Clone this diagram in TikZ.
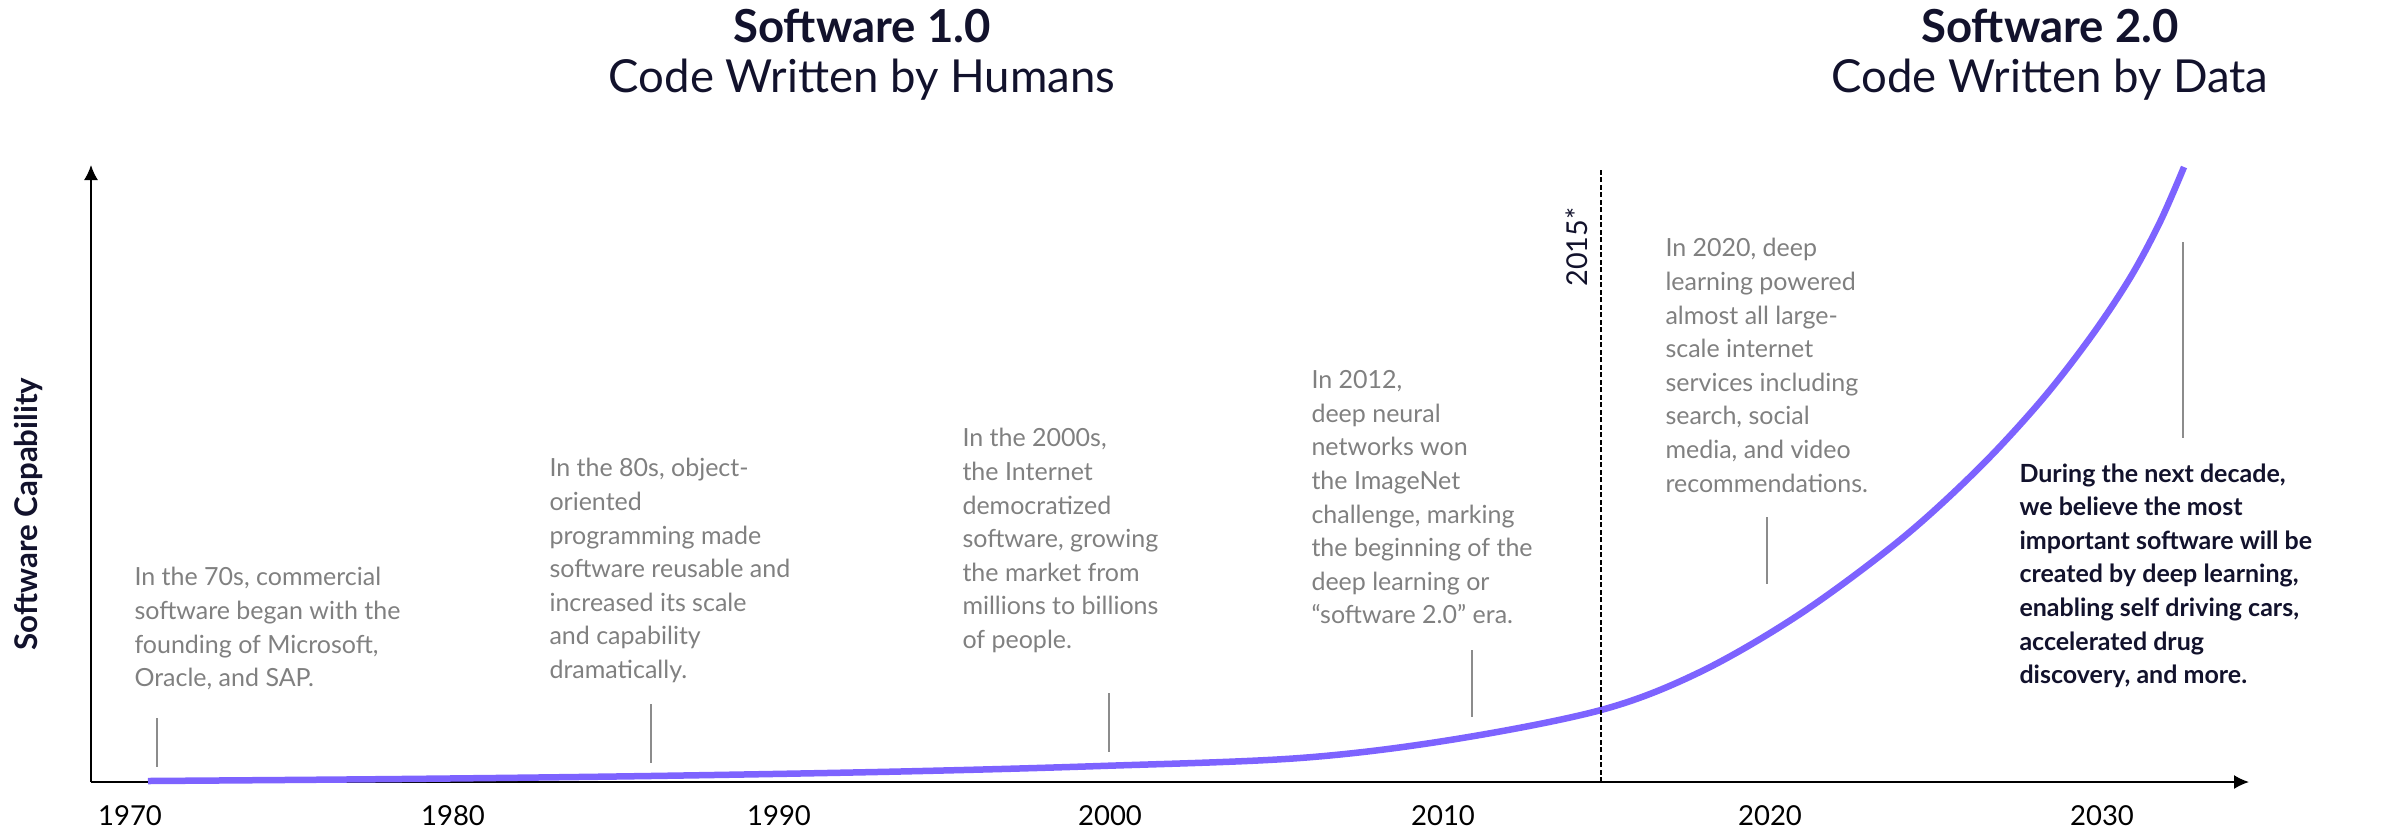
\documentclass[tikz,border=0pt]{standalone}
\usepackage{fontspec}
\setmainfont{Lato}
\usetikzlibrary{arrows.meta,positioning,calc}
\definecolor{navy}{RGB}{18,18,44}
\definecolor{textgray}{RGB}{128,128,128}
\definecolor{tickgray}{RGB}{140,140,140}
\definecolor{growthpurple}{RGB}{125,99,255}

\begin{document}
\begin{tikzpicture}
[x=0.4pt,y=-0.4pt,
%
title/.style={align=center,inner sep=0pt,anchor=north,text=navy,
  font=\fontsize{18.2}{20}\selectfont,execute at begin node={\rule{0pt}{14pt}}},
note/.style={align=left,inner sep=0pt,anchor=north west,text=textgray,
  font=\fontsize{10}{13.44}\selectfont,execute at begin node={\rule{0pt}{8pt}}},
bnote/.style={note,text=navy,font=\bfseries\fontsize{10}{13.44}\selectfont},
year/.style={inner sep=0pt,anchor=base,font=\fontsize{11}{13}\selectfont},
%
axis/.style={draw=black,line width=0.68pt,-{Latex[length=6pt,width=5.6pt]}},
tick/.style={draw=tickgray,line width=0.6pt},
era/.style={draw=black,line width=0.5pt,dash pattern=on 2pt off 1pt},
growth/.style={draw=growthpurple,line width=2.6pt}]
%
\useasboundingbox (0,0) rectangle (2394,829);
%
%% titles
\node (sw1) [title] at (862,9) {\textbf{Software 1.0}\\Code Written by Humans};
\node (sw2) [title] at (2050,9) {\textbf{Software 2.0}\\Code Written by Data};
%
%% axes
\coordinate (o) at (91,782);
\coordinate (ytop) at (91,165);
\coordinate (xend) at (2249,782);
\draw[axis] (o) -- (ytop);
\draw[axis] (o) -- (xend);
\node (ylab) [rotate=90,inner sep=0pt,text=navy,
  font=\bfseries\fontsize{12.5}{14}\selectfont] at (29,514) {Software Capability};
%
%% years
\foreach \x/\y in {130/1970,453/1980,779/1990,1110/2000,1443/2010,1770/2020,2102/2030}
\node (y\y) [year] at (\x,825) {\y};
%
%% growth curve
\draw[growth] plot[smooth,tension=0.55] coordinates {(148,781) (400,779) (650,776)
  (900,771.5) (1100,766) (1300,758) (1450,740) (1601,710) (1700,672) (1800,614)
  (1900,540) (1977,470) (2040,402) (2090,338) (2130,278) (2160,222) (2184,167)};
%
%% 2015 marker
\coordinate (e0) at (1601,782);
\coordinate (e1) at (1601,167);
\draw[era] (e0) -- (e1);
\node (y2015) [rotate=90,inner sep=0pt,text=navy,
  font=\fontsize{11.5}{13}\selectfont] at (1577,247) {2015*};
%
%% notes
\node (n70) [note] at (134,567) {In the 70s, commercial\\software began with the\\founding of Microsoft,\\Oracle, and SAP.};
\node (n80) [note] at (549,458) {In the 80s, object-\\oriented\\programming made\\software reusable and\\increased its scale\\and capability\\dramatically.};
\node (n2000) [note] at (962,428) {In the 2000s,\\the Internet\\democratized\\software, growing\\the market from\\millions to billions\\of people.};
\node (n2012) [note] at (1311,370) {In 2012,\\deep neural\\networks won\\the ImageNet\\challenge, marking\\the beginning of the\\deep learning or\\“software 2.0” era.};
\node (n2020) [note] at (1665,238) {In 2020, deep\\learning powered\\almost all large-\\scale internet\\services including\\search, social\\media, and video\\recommendations.};
\node (nnext) [bnote] at (2019,463) {During the next decade,\\we believe the most\\important software will be\\created by deep learning,\\enabling self driving cars,\\accelerated drug\\discovery, and more.};
%
%% ticks under the notes
\foreach \x/\a/\b in {157/718/767,651/704/763,1109/693/752,1472/650/717,1767/517/584,2183/242/438}
\draw[tick] (\x,\a) -- (\x,\b);
\end{tikzpicture}
\end{document}
